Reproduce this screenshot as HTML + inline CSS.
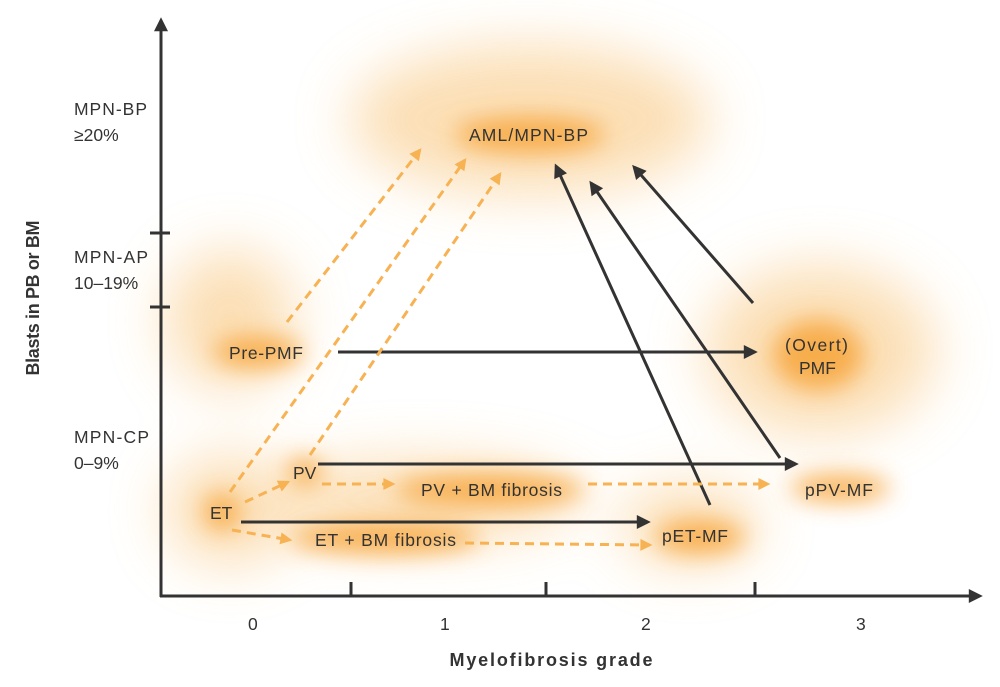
<!DOCTYPE html>
<html><head><style>
html,body{margin:0;padding:0;background:#fff;}
svg{display:block;font-family:"Liberation Sans",sans-serif;}
</style></head><body>
<svg width="1000" height="687" viewBox="0 0 1000 687">
<defs>
<filter id="b1" x="-50%" y="-50%" width="200%" height="200%"><feGaussianBlur stdDeviation="28"/></filter>
<filter id="b2" x="-50%" y="-50%" width="200%" height="200%"><feGaussianBlur stdDeviation="12"/></filter>
<marker id="ak2" viewBox="0 0 10 10" markerWidth="16" markerHeight="14" refX="8" refY="5" orient="auto" markerUnits="userSpaceOnUse"><path d="M0,0 L10,5 L0,10 z" fill="#333"/></marker>
<marker id="ao2" viewBox="0 0 10 10" markerWidth="14" markerHeight="12" refX="8" refY="5" orient="auto" markerUnits="userSpaceOnUse"><path d="M0,0 L10,5 L0,10 z" fill="#f7b253"/></marker>
</defs>
<g filter="url(#b1)" fill="#fbd9a8" opacity="0.85">
<ellipse cx="530" cy="120" rx="180" ry="75"/>
<ellipse cx="230" cy="320" rx="65" ry="70"/>
<ellipse cx="230" cy="510" rx="65" ry="55"/>
<ellipse cx="820" cy="350" rx="115" ry="85"/>
<ellipse cx="420" cy="500" rx="160" ry="40"/>
<ellipse cx="690" cy="525" rx="70" ry="40"/>
</g>
<g filter="url(#b2)" fill="#f7a53a" opacity="0.85">
<ellipse cx="258" cy="352" rx="45" ry="16"/>
<ellipse cx="490" cy="490" rx="95" ry="16"/>
<ellipse cx="385" cy="538" rx="95" ry="16"/>
<ellipse cx="840" cy="488" rx="50" ry="14"/>
<ellipse cx="700" cy="537" rx="45" ry="16"/>
<ellipse cx="818" cy="355" rx="45" ry="35"/>
<ellipse cx="530" cy="135" rx="75" ry="18"/>
<ellipse cx="222" cy="512" rx="18" ry="18"/>
<ellipse cx="305" cy="472" rx="18" ry="14"/>
</g>
<g stroke="#333" stroke-width="3" fill="none">
<line x1="161" y1="597" x2="161" y2="20" marker-end="url(#ak2)"/>
<line x1="160" y1="596" x2="980" y2="596" marker-end="url(#ak2)"/>
<line x1="150" y1="233" x2="170" y2="233"/>
<line x1="150" y1="307" x2="170" y2="307"/>
<line x1="351" y1="582" x2="351" y2="596"/>
<line x1="546" y1="582" x2="546" y2="596"/>
<line x1="755" y1="582" x2="755" y2="596"/>
</g>
<g stroke="#333" stroke-width="3" fill="none" marker-end="url(#ak2)">
<line x1="338" y1="352" x2="755" y2="352"/>
<line x1="318" y1="464" x2="796" y2="464"/>
<line x1="241" y1="522" x2="648" y2="522"/>
<line x1="710" y1="505" x2="556" y2="166"/>
<line x1="780" y1="458" x2="591" y2="183"/>
<line x1="753" y1="303" x2="634" y2="167"/>
</g>
<g stroke="#f7b253" stroke-width="3" fill="none" stroke-dasharray="9,6" marker-end="url(#ao2)">
<line x1="287" y1="322" x2="420" y2="150"/>
<line x1="230" y1="492" x2="465" y2="160"/>
<line x1="310" y1="455" x2="500" y2="174"/>
<line x1="245" y1="502" x2="288" y2="482"/>
<line x1="322" y1="484" x2="393" y2="484"/>
<line x1="588" y1="484" x2="768" y2="484"/>
<line x1="232" y1="530" x2="290" y2="540"/>
<line x1="465" y1="543" x2="650" y2="545"/>
</g>
<g fill="#333" font-size="17.5">
<text x="469" y="141" textLength="119">AML/MPN-BP</text>
<text x="229" y="359" textLength="74">Pre-PMF</text>
<text x="785" y="351" textLength="63">(Overt)</text>
<text x="799" y="374">PMF</text>
<text x="293" y="479">PV</text>
<text x="421" y="496" textLength="141">PV + BM fibrosis</text>
<text x="210" y="519">ET</text>
<text x="315" y="546" textLength="141">ET + BM fibrosis</text>
<text x="805" y="496" textLength="68">pPV-MF</text>
<text x="662" y="542" textLength="66">pET-MF</text>
<text x="74" y="115" textLength="73">MPN-BP</text>
<text x="74" y="141">≥20%</text>
<text x="74" y="263" textLength="74">MPN-AP</text>
<text x="74" y="289">10–19%</text>
<text x="74" y="443" textLength="75">MPN-CP</text>
<text x="74" y="469">0–9%</text>
<text x="248" y="630">0</text>
<text x="440" y="630">1</text>
<text x="641" y="630">2</text>
<text x="856" y="630">3</text>
</g>
<text x="551" y="666" font-size="18" font-weight="bold" fill="#333" text-anchor="middle" textLength="203">Myelofibrosis grade</text>
<text transform="translate(39,298) rotate(-90)" font-size="18" font-weight="bold" fill="#333" text-anchor="middle" textLength="155">Blasts in PB or BM</text>
</svg>
</body></html>
